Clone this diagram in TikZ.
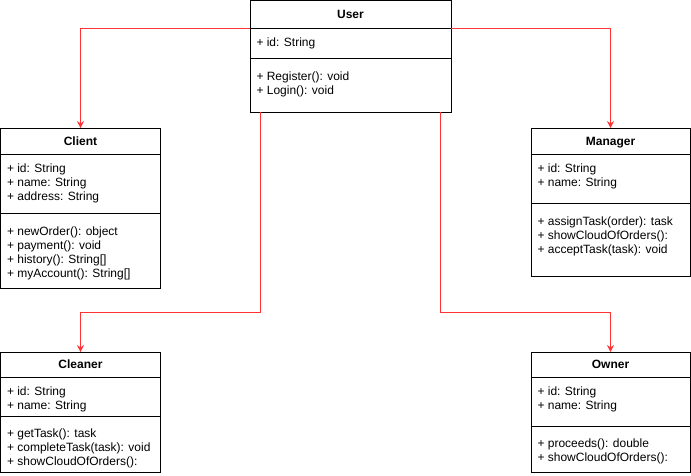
\documentclass[tikz,border=0pt]{standalone}
\usepackage{fontspec}
\setmainfont{Liberation Sans}
\usepackage{tikz}
\usetikzlibrary{arrows.meta}

\begin{document}
\begin{tikzpicture}[x=1pt, y=-1pt, line width=1pt,
  classbox/.style={draw, anchor=north west, inner sep=0pt, outer sep=0pt},
  classhead/.style={draw, anchor=north west, inner sep=0pt, outer sep=0pt, text depth=0pt, font=\fontsize{12}{14}\selectfont\bfseries},
  member/.style={anchor=base west, inner sep=0pt, font=\fontsize{12}{14}\selectfont},
  inherit/.style={draw=linkred, line width=1pt, -{Stealth[length=7pt, width=7pt, inset=2.5pt]}}]
  % Define colors
  \definecolor{linkred}{RGB}{255,51,51}
  \useasboundingbox (0,0) rectangle (691,475);

  % User - base class
  \begin{scope}[shift={(250,0.5)}]
    \node[classbox, minimum width=201pt, minimum height=111.5pt] (user) at (0,0) {};
    \node[classhead, minimum width=201pt, minimum height=27.5pt] (user-head) at (0,0) {User};
    \draw (0,57.5) -- (201,57.5);
    \foreach \txt [count=\i from 0] in {+ id: String}
      \node[member] (user-a\i) at (6, {45.5+14*\i}) {\txt};
    \foreach \txt [count=\i from 0] in {+ Register(): void, + Login(): void}
      \node[member] (user-m\i) at (6, {79.5+14*\i}) {\txt};
  \end{scope}

  % Client
  \begin{scope}[shift={(0.5,128)}]
    \node[classbox, minimum width=160pt, minimum height=160pt] (client) at (0,0) {};
    \node[classhead, minimum width=160pt, minimum height=26pt] (client-head) at (0,0) {Client};
    \draw (0,85) -- (160,85);
    \foreach \txt [count=\i from 0] in {+ id: String, + name: String, + address: String}
      \node[member] (client-a\i) at (6, {44+14*\i}) {\txt};
    \foreach \txt [count=\i from 0] in {+ newOrder(): object, + payment(): void, + history(): String[], + myAccount(): String[]}
      \node[member] (client-m\i) at (6, {107+14*\i}) {\txt};
  \end{scope}

  % Manager
  \begin{scope}[shift={(531,128)}]
    \node[classbox, minimum width=159pt, minimum height=148pt] (manager) at (0,0) {};
    \node[classhead, minimum width=159pt, minimum height=26pt] (manager-head) at (0,0) {Manager};
    \draw (0,75) -- (159,75);
    \foreach \txt [count=\i from 0] in {+ id: String, + name: String}
      \node[member] (manager-a\i) at (6, {44+14*\i}) {\txt};
    \foreach \txt [count=\i from 0] in {+ assignTask(order): task, + showCloudOfOrders():, + acceptTask(task): void}
      \node[member] (manager-m\i) at (6, {97+14*\i}) {\txt};
  \end{scope}

  % Cleaner
  \begin{scope}[shift={(0.5,352)}]
    \node[classbox, minimum width=160pt, minimum height=120pt] (cleaner) at (0,0) {};
    \node[classhead, minimum width=160pt, minimum height=25pt] (cleaner-head) at (0,0) {Cleaner};
    \draw (0,64) -- (160,64);
    \foreach \txt [count=\i from 0] in {+ id: String, + name: String}
      \node[member] (cleaner-a\i) at (6, {43+14*\i}) {\txt};
    \foreach \txt [count=\i from 0] in {+ getTask(): task, + completeTask(task): void, + showCloudOfOrders():}
      \node[member] (cleaner-m\i) at (6, {85+14*\i}) {\txt};
  \end{scope}

  % Owner
  \begin{scope}[shift={(531,352)}]
    \node[classbox, minimum width=159pt, minimum height=120pt] (owner) at (0,0) {};
    \node[classhead, minimum width=159pt, minimum height=25pt] (owner-head) at (0,0) {Owner};
    \draw (0,74) -- (159,74);
    \foreach \txt [count=\i from 0] in {+ id: String, + name: String}
      \node[member] (owner-a\i) at (6, {43+14*\i}) {\txt};
    \foreach \txt [count=\i from 0] in {+ proceeds(): double, + showCloudOfOrders():}
      \node[member] (owner-m\i) at (6, {95+14*\i}) {\txt};
  \end{scope}

  % Inheritance connectors
  \draw[inherit] (user-head.south west) -| (client.north);
  \draw[inherit] (user-head.south east) -| (manager.north);
  \draw[inherit] ([xshift=10pt]user.south west) -- ++(0,200) -| (cleaner.north);
  \draw[inherit] ([xshift=-11pt]user.south east) -- ++(0,200) -| (owner.north);
\end{tikzpicture}
\end{document}
